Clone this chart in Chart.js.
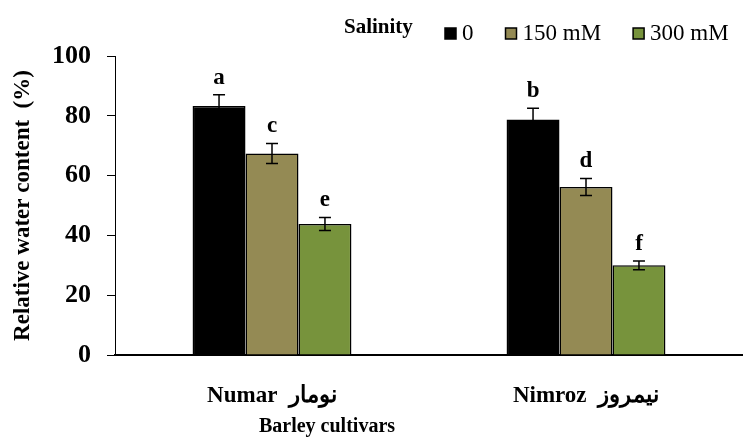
<!DOCTYPE html>
<html>
<head>
<meta charset="utf-8">
<script src="https://cdn.jsdelivr.net/npm/chart.js@4"></script>
<style>
  body { margin: 0; background: #fff; }
  canvas { display: block; }
</style>
</head>
<body>
<canvas id="rwcChart" width="743" height="439"></canvas>
<script>
// data
const cultivars = ["Numar  نومار", "Nimroz  نیمروز"];
const salinity = ["0", "150 mM", "300 mM"];
const rwc0 = [83.3, 78.8];
const rwc150 = [67.4, 56.2];
const rwc300 = [43.8, 30.0];
const err0 = [3.7, 3.7];
const err150 = [3.35, 2.85];
const err300 = [2.2, 1.45];
const letters0 = ["a", "b"];
const letters150 = ["c", "d"];
const letters300 = ["e", "f"];
const yTicks = [0, 20, 40, 60, 80, 100];

const serif = "'Liberation Serif', 'Times New Roman', serif";

// error bars, significance letters, legend and x title
const annotPlugin = {
  id: "annot",
  afterDatasetsDraw(chart) {
    const ctx = chart.ctx;
    const y = chart.scales.y;
    ctx.save();
    chart.data.datasets.forEach((ds, i) => {
      const meta = chart.getDatasetMeta(i);
      meta.data.forEach((bar, j) => {
        const top = y.getPixelForValue(ds.data[j] + ds.errors[j]);
        const bot = y.getPixelForValue(ds.data[j] - ds.errors[j]);
        ctx.strokeStyle = "#000";
        ctx.lineWidth = 1.5;
        ctx.beginPath();
        ctx.moveTo(bar.x, top);
        ctx.lineTo(bar.x, bot);
        ctx.moveTo(bar.x - 6, top);
        ctx.lineTo(bar.x + 6, top);
        ctx.moveTo(bar.x - 6, bot);
        ctx.lineTo(bar.x + 6, bot);
        ctx.stroke();

        ctx.fillStyle = "#000";
        ctx.font = "bold 23px " + serif;
        ctx.textAlign = "center";
        ctx.textBaseline = "alphabetic";
        ctx.fillText(ds.letters[j], bar.x, top - 11);
      });
    });
    ctx.restore();
  },
  afterDraw(chart) {
    const ctx = chart.ctx;
    ctx.save();
    ctx.fillStyle = "#000";
    ctx.textBaseline = "alphabetic";

    // legend
    ctx.font = "bold 21px " + serif;
    ctx.textAlign = "left";
    ctx.fillText("Salinity", 344, 33);
    ctx.font = "23px " + serif;
    let x = 445;
    chart.data.datasets.forEach((ds) => {
      ctx.fillStyle = ds.backgroundColor;
      ctx.fillRect(x, 28, 11, 11);
      ctx.strokeStyle = "#000";
      ctx.lineWidth = 1.5;
      ctx.strokeRect(x, 28, 11, 11);
      ctx.fillStyle = "#000";
      ctx.fillText(ds.label, x + 17, 40);
      x += 17 + ctx.measureText(ds.label).width + 32;
    });

    // x axis title
    ctx.font = "bold 20px " + serif;
    ctx.textAlign = "center";
    ctx.fillText("Barley cultivars", 327, 432);
    ctx.restore();
  },
};

const ctx = document.getElementById("rwcChart");

new Chart(ctx, {
  type: "bar",
  data: {
    labels: cultivars,
    datasets: [
      { label: salinity[0], data: rwc0, errors: err0, letters: letters0, backgroundColor: "#000000" },
      { label: salinity[1], data: rwc150, errors: err150, letters: letters150, backgroundColor: "#948A54" },
      { label: salinity[2], data: rwc300, errors: err300, letters: letters300, backgroundColor: "#77933C" },
    ],
  },
  options: {
    responsive: false,
    animation: false,
    devicePixelRatio: 1,
    layout: { padding: { top: 56, right: 0, left: 0, bottom: 0 } },
    datasets: {
      bar: {
        borderColor: "#000",
        borderWidth: 1.5,
        barPercentage: 1,
        categoryPercentage: 0.506,
      },
    },
    plugins: {
      legend: { display: false },
      tooltip: { enabled: false },
    },
    scales: {
      x: {
        grid: { display: false },
        border: { display: true, color: "#000", width: 2 },
        ticks: { color: "#000", font: { family: serif, size: 23, weight: "bold" }, padding: 19 },
        afterFit(scale) { scale.height = 84; },
      },
      y: {
        min: 0,
        max: 100,
        afterBuildTicks(scale) { scale.ticks = yTicks.map((v) => ({ value: v })); },
        grid: { drawOnChartArea: false, drawTicks: true, tickLength: 8, color: "#000", lineWidth: 1 },
        border: { display: true, color: "#000", width: 1 },
        ticks: { color: "#000", font: { family: serif, size: 26, weight: "bold" }, padding: 16 },
        title: {
          display: true,
          text: "Relative water content  (%)",
          color: "#000",
          font: { family: serif, size: 23, weight: "bold" },
          padding: { top: 9, bottom: 0 },
        },
        afterFit(scale) { scale.width = 115; },
      },
    },
  },
  plugins: [annotPlugin],
});
</script>
</body>
</html>
